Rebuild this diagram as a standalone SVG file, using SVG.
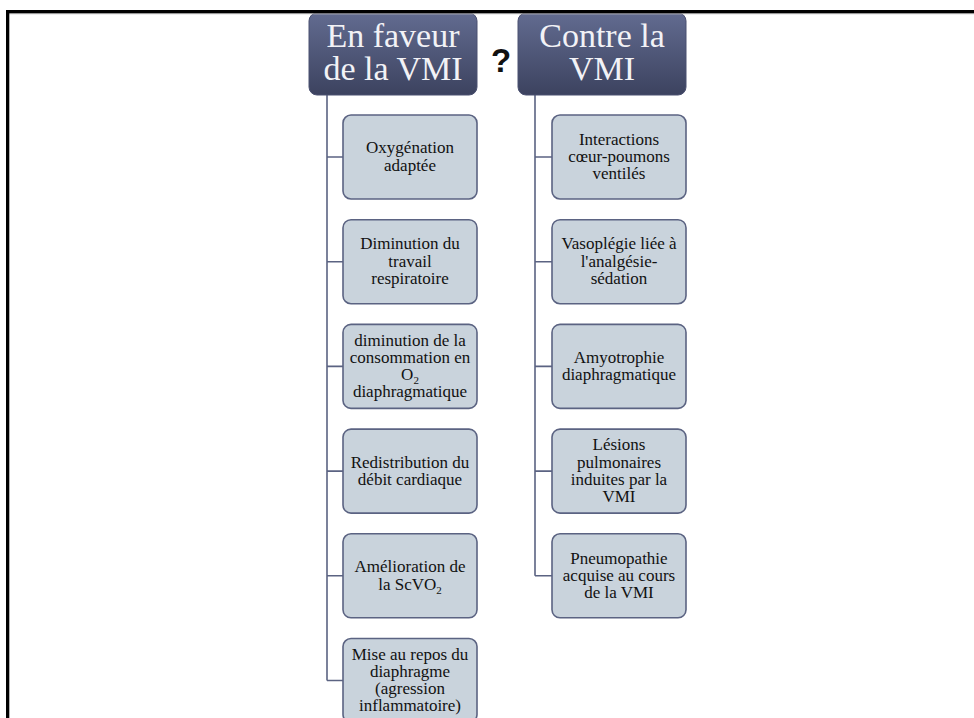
<svg xmlns="http://www.w3.org/2000/svg" width="974" height="718" viewBox="0 0 974 718">
<defs>
<linearGradient id="hdr" x1="0" y1="0" x2="0" y2="1">
<stop offset="0" stop-color="#626b90"/>
<stop offset="1" stop-color="#3c425f"/>
</linearGradient>
</defs>
<style>
.hdr{fill:url(#hdr);stroke:#4a5070;stroke-width:1}
.htxt{font-family:"Liberation Serif","Times New Roman",serif;font-size:34px;fill:#f2f2f6;text-anchor:middle}
.box{fill:#c9d3dc;stroke:#5b6382;stroke-width:1.6}
.btxt{font-family:"Liberation Serif","Times New Roman",serif;font-size:17px;fill:#111;text-anchor:middle}
.sub{font-size:11px}
.conn{fill:none;stroke:#5b6382;stroke-width:1.6}
</style>
<rect x="0" y="0" width="974" height="718" fill="#ffffff"/>

<g id="connectors">
<path class="conn" d="M327 95 V680.5 M327 157 H343 M327 261.7 H343 M327 366.4 H343 M327 471.1 H343 M327 575.8 H343 M327 680.5 H343"/>
<path class="conn" d="M535 95 V575.8 M535 157 H552 M535 261.7 H552 M535 366.4 H552 M535 471.1 H552 M535 575.8 H552"/>
</g>

<g id="header-pour">
<rect class="hdr" x="309" y="13" width="168" height="82" rx="8"/>
<text class="htxt" x="393" y="47">En faveur<tspan x="393" dy="33">de la VMI</tspan></text>
</g>
<g id="question">
<text x="501" y="72" font-family="Liberation Sans, Arial, sans-serif" font-size="33" font-weight="bold" fill="#111" text-anchor="middle">?</text>
</g>
<g id="header-contre">
<rect class="hdr" x="518" y="13" width="168" height="82" rx="8"/>
<text class="htxt" x="602" y="47">Contre la<tspan x="602" dy="33">VMI</tspan></text>
</g>

<g id="p1">
<rect class="box" x="343" y="115" width="134" height="84" rx="8"/>
<text class="btxt" x="410" y="153.4">Oxygénation<tspan x="410" dy="17.3">adaptée</tspan></text>
</g>
<g id="p2">
<rect class="box" x="343" y="219.7" width="134" height="84" rx="8"/>
<text class="btxt" x="410" y="249.4">Diminution du<tspan x="410" dy="17.3">travail</tspan><tspan x="410" dy="17.3">respiratoire</tspan></text>
</g>
<g id="p3">
<rect class="box" x="343" y="324.4" width="134" height="84" rx="8"/>
<text class="btxt" x="410" y="345.5">diminution de la<tspan x="410" dy="17.3">consommation en</tspan><tspan x="410" dy="17.3">O</tspan><tspan class="sub" dy="4">2</tspan><tspan x="410" dy="13.3">diaphragmatique</tspan></text>
</g>
<g id="p4">
<rect class="box" x="343" y="429.1" width="134" height="84" rx="8"/>
<text class="btxt" x="410" y="467.5">Redistribution du<tspan x="410" dy="17.3">débit cardiaque</tspan></text>
</g>
<g id="p5">
<rect class="box" x="343" y="533.8" width="134" height="84" rx="8"/>
<text class="btxt" x="410" y="572.2">Amélioration de<tspan x="410" dy="17.3">la ScVO</tspan><tspan class="sub" dy="4">2</tspan></text>
</g>
<g id="p6">
<rect class="box" x="343" y="638.5" width="134" height="84" rx="8"/>
<text class="btxt" x="410" y="659.5">Mise au repos du<tspan x="410" dy="17.3">diaphragme</tspan><tspan x="410" dy="17.3">(agression</tspan><tspan x="410" dy="17.3">inflammatoire)</tspan></text>
</g>

<g id="c1">
<rect class="box" x="552" y="115" width="134" height="84" rx="8"/>
<text class="btxt" x="619" y="144.7">Interactions<tspan x="619" dy="17.3">cœur-poumons</tspan><tspan x="619" dy="17.3">ventilés</tspan></text>
</g>
<g id="c2">
<rect class="box" x="552" y="219.7" width="134" height="84" rx="8"/>
<text class="btxt" x="619" y="249.4">Vasoplégie liée à<tspan x="619" dy="17.3">l'analgésie-</tspan><tspan x="619" dy="17.3">sédation</tspan></text>
</g>
<g id="c3">
<rect class="box" x="552" y="324.4" width="134" height="84" rx="8"/>
<text class="btxt" x="619" y="362.8">Amyotrophie<tspan x="619" dy="17.3">diaphragmatique</tspan></text>
</g>
<g id="c4">
<rect class="box" x="552" y="429.1" width="134" height="84" rx="8"/>
<text class="btxt" x="619" y="450.2">Lésions<tspan x="619" dy="17.3">pulmonaires</tspan><tspan x="619" dy="17.3">induites par la</tspan><tspan x="619" dy="17.3">VMI</tspan></text>
</g>
<g id="c5">
<rect class="box" x="552" y="533.8" width="134" height="84" rx="8"/>
<text class="btxt" x="619" y="563.5">Pneumopathie<tspan x="619" dy="17.3">acquise au cours</tspan><tspan x="619" dy="17.3">de la VMI</tspan></text>
</g>

<g id="frame">
<rect x="6" y="13.3" width="968" height="1" fill="#c8c8c8"/>
<rect x="6" y="10" width="968" height="3.3" fill="#000"/>
<rect x="6" y="10" width="3.3" height="708" fill="#000"/>
</g>
</svg>
